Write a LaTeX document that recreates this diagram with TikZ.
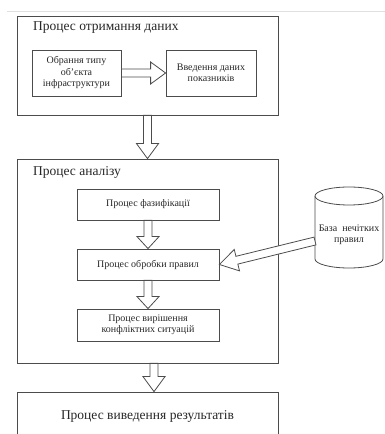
\documentclass[tikz,border=0pt]{standalone}
\usepackage{fontspec}
\setmainfont{Liberation Serif}
\usetikzlibrary{calc}

% hollow block arrow: [head length]{from}{to}
\newcommand{\blockarrow}[3][15pt]{%
  \coordinate (ba) at ($(#3)!#1!(#2)$);
  \draw[arrowline] ($(#2)!4pt!90:(#3)$) -- ($(ba)!4pt!-90:(#2)$) -- ($(ba)!11pt!-90:(#2)$)
    -- (#3) -- ($(ba)!11pt!90:(#2)$) -- ($(ba)!4pt!90:(#2)$) -- ($(#2)!4pt!-90:(#3)$) -- cycle;}

\begin{document}
\begin{tikzpicture}[x=1pt,y=1pt]
    \tikzstyle{every node} = [font=\fontsize{10}{11.5}\selectfont, text=black!85]
    \tikzstyle{outerbox} = [draw=black!70, line width=0.8pt, rectangle, minimum width=261pt]
    \tikzstyle{block} = [draw=black!70, line width=0.8pt, rectangle, align=center, inner sep=0pt]
    \tikzstyle{heading} = [font=\fontsize{13.5}{16}\selectfont, anchor=west, inner sep=0pt]
    \tikzstyle{arrowline} = [draw=black!70, line width=0.8pt, fill=white, line join=miter]
    \path[use as bounding box, clip] (0,0) rectangle (385,434);
    \draw[black!12, line width=0.8pt] (7,423) -- (385,423);

    % place nodes
    \node[outerbox, minimum height=99pt] (otr) at (147.5,368.5) {};
    \node[heading] (otrT) at (33,406) {Процес отримання даних};
    \node[block, minimum width=89pt, minimum height=46pt] (obr) at (76.5,361) {Обрання типу\\об'єкта\\інфраструктури};
    \node[block, minimum width=90pt, minimum height=46pt] (vved) at (211,361) {Введення даних\\показників};

    \node[outerbox, minimum height=204pt] (anal) at (147.5,173) {};
    \node[heading] (analT) at (33,262) {Процес аналізу};
    \node[block, minimum width=142pt, minimum height=31pt] (fazy) at (148,229.5) {Процес фазифікації};
    \node[block, minimum width=142pt, minimum height=31pt] (obrob) at (148,169.5) {Процес обробки правил};
    \node[block, minimum width=142pt, minimum height=32pt] (vyrish) at (148,109) {Процес вирішення\\конфліктних ситуацій};

    \node[outerbox, minimum height=48pt, font=\fontsize{13.5}{16}\selectfont] (vyved) at (147.5,18) {Процес виведення результатів};

    % rule base
    \draw[arrowline] (315,238) -- (315,175) arc[start angle=180, end angle=360, x radius=34pt, y radius=9pt]
      -- (383,238) arc[start angle=0, end angle=180, x radius=34pt, y radius=9pt] -- cycle;
    \draw[arrowline] (315,238) arc[start angle=180, end angle=360, x radius=34pt, y radius=9pt];
    \node[align=center] (baza) at (349,199) {База\ \ нечітких\\правил};
    \coordinate (bazaOut) at (315,193);

    % Connections
    \blockarrow{obr.east}{vved.west}
    \blockarrow{otr.south}{anal.north}
    \blockarrow[12pt]{fazy.south}{obrob.north}
    \blockarrow[12pt]{obrob.south}{vyrish.north}
    \coordinate (analOut) at ([xshift=6.5pt]anal.south);
    \coordinate (vyvedIn) at ([xshift=6.5pt]vyved.north);
    \blockarrow{analOut}{vyvedIn}
    \blockarrow[18pt]{bazaOut}{obrob.east}

\end{tikzpicture}
\end{document}
